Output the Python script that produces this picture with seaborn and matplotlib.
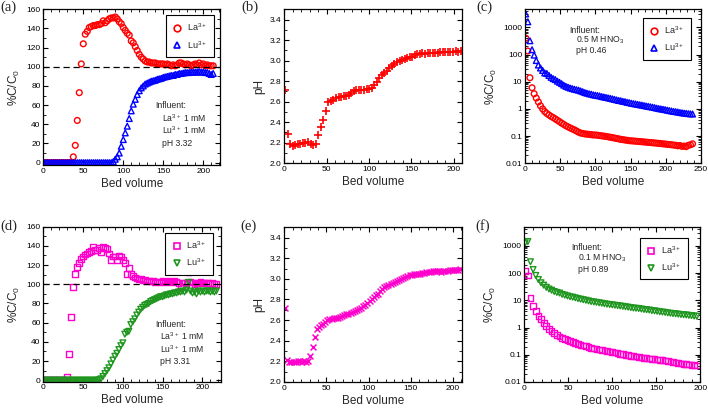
import numpy as np
import pandas as pd
import matplotlib
matplotlib.use("Agg")
import matplotlib.pyplot as plt
import seaborn as sns
from matplotlib.ticker import MultipleLocator, FixedLocator, FixedFormatter, LogLocator, NullFormatter
from matplotlib.lines import Line2D

# ---------------- data ----------------
# (a) pH 3.32 feed, breakthrough
bv_a = [0, 2.5, 5, 7.5, 10, 12.5, 15, 17.5, 20, 22.5, 25, 27.5, 30, 32.5, 35, 37.5, 40, 42.5, 45, 47.5,
        50, 52.5, 55, 57.5, 60, 62.5, 65, 67.5, 70, 72.5, 75, 77.5, 80, 82.5, 85, 87.5, 90, 92.5, 95, 97.5,
        100, 102.5, 105, 107.5, 110, 112.5, 115, 117.5, 120, 122.5, 125, 127.5, 130, 132.5, 135, 137.5, 140, 142.5, 145, 147.5,
        150, 152.5, 155, 157.5, 160, 162.5, 165, 167.5, 170, 172.5, 175, 177.5, 180, 182.5, 185, 187.5, 190, 192.5, 195, 197.5,
        200, 202.5, 205, 207.5, 210, 212.5]
la_a = [0, 0, 0, 0, 0, 0, 0, 0, 0, 0, 0, 0, 0, 0, 0, 6, 18, 44, 73, 103,
        124, 134, 137, 141, 142, 143, 143, 144, 144, 145, 148, 146, 148, 150, 151, 151, 152, 150, 147, 145,
        141, 138, 135, 133, 127, 125, 121, 117, 113, 110, 108, 106, 105, 105, 104, 104, 104, 103, 103, 103,
        103, 102, 103, 102, 101, 102, 101, 102, 104, 104, 103, 102, 103, 102, 101, 102, 103, 102, 104, 102,
        103, 101, 102, 101, 101, 101]
lu_a = [0, 0, 0, 0, 0, 0, 0, 0, 0, 0, 0, 0, 0, 0, 0, 0, 0, 0, 0, 0,
        0, 0, 0, 0, 0, 0, 0, 0, 0, 0, 0, 0, 0, 0, 0, 1, 3.5, 6, 10, 17,
        24, 31, 38, 46, 54, 61, 66, 71, 75, 78, 80, 82, 83, 84, 85, 85.5, 86, 87, 87.5, 88,
        89, 89.5, 90, 90.5, 91, 91, 92, 92, 93, 93, 93.5, 94, 94, 94, 94.5, 94.5, 94.5, 94.5, 95, 94.5,
        94.5, 94, 94, 93, 92, 93]

# (b) effluent pH
bv_b = [1, 4, 7, 10, 13, 16, 19, 22, 25, 28, 31, 34, 37, 40, 43, 46, 49, 52, 55, 58,
        61, 64, 67, 70, 73, 76, 79, 82, 85, 88, 91, 94, 97, 100, 103, 106, 109, 112, 115, 118,
        121, 124, 127, 130, 133, 136, 139, 142, 145, 148, 151, 154, 157, 160, 163, 166, 169, 172, 175, 178,
        181, 184, 187, 190, 193, 196, 199, 202, 205, 208]
ph_b = [2.71, 2.29, 2.19, 2.17, 2.18, 2.19, 2.19, 2.20, 2.20, 2.21, 2.19, 2.18, 2.19, 2.28, 2.35, 2.42, 2.51, 2.60, 2.61, 2.62,
        2.64, 2.65, 2.65, 2.66, 2.66, 2.67, 2.68, 2.70, 2.71, 2.71, 2.71, 2.71, 2.72, 2.72, 2.73, 2.76, 2.79, 2.83, 2.86, 2.88,
        2.90, 2.93, 2.95, 2.97, 2.99, 3.00, 3.01, 3.02, 3.03, 3.04, 3.04, 3.05, 3.06, 3.06, 3.07, 3.06, 3.07, 3.07, 3.07, 3.07,
        3.07, 3.08, 3.08, 3.08, 3.08, 3.08, 3.08, 3.09, 3.08, 3.09]

# (c) elution with 0.5 M HNO3
bv_c = [1, 4, 7, 10, 13, 16, 19, 22, 25, 28, 31, 34, 37, 40, 43, 46, 49, 52, 55, 58,
        61, 64, 67, 70, 73, 76, 79, 82, 85, 88, 91, 94, 97, 100, 103, 106, 109, 112, 115, 118,
        121, 124, 127, 130, 133, 136, 139, 142, 145, 148, 151, 154, 157, 160, 163, 166, 169, 172, 175, 178,
        181, 184, 187, 190, 193, 196, 199, 202, 205, 208, 211, 214, 217, 220, 223, 226, 229, 232, 235, 238]
lu_c = [3100, 1600, 320, 150, 95, 60, 41, 32, 26, 21, 20, 17, 14.5, 13, 12, 10.5, 9.5, 8.5, 7.5, 6.8,
        6.3, 5.9, 5.6, 5.3, 5.1, 4.9, 4.6, 4.3, 4.0, 3.8, 3.6, 3.5, 3.3, 3.2, 3.1, 3.0, 2.85, 2.75, 2.65, 2.55,
        2.45, 2.35, 2.25, 2.15, 2.05, 2.0, 1.9, 1.85, 1.75, 1.7, 1.62, 1.57, 1.52, 1.47, 1.42, 1.38, 1.33, 1.28, 1.24, 1.2,
        1.16, 1.12, 1.07, 1.03, 1.0, 0.97, 0.94, 0.9, 0.87, 0.84, 0.81, 0.79, 0.77, 0.74, 0.72, 0.7, 0.69, 0.67, 0.66, 0.65]
la_c = [400, 135, 14, 6.0, 3.6, 2.5, 1.8, 1.3, 1.0, 0.8, 0.68, 0.6, 0.53, 0.48, 0.43, 0.38, 0.34, 0.3, 0.27, 0.24,
        0.22, 0.2, 0.185, 0.17, 0.155, 0.14, 0.13, 0.125, 0.12, 0.118, 0.116, 0.113, 0.11, 0.11, 0.108, 0.105, 0.102, 0.1, 0.097, 0.094,
        0.091, 0.088, 0.085, 0.082, 0.079, 0.076, 0.074, 0.072, 0.07, 0.068, 0.067, 0.066, 0.065, 0.064, 0.063, 0.062, 0.061, 0.06, 0.059, 0.058,
        0.057, 0.056, 0.055, 0.054, 0.053, 0.052, 0.051, 0.05, 0.049, 0.048, 0.047, 0.046, 0.044, 0.045, 0.042, 0.043, 0.041, 0.046, 0.048, 0.052]

# (d) pH 3.31 feed, breakthrough
bv_d = [0, 2.5, 5, 7.5, 10, 12.5, 15, 17.5, 20, 22.5, 25, 27.5, 30, 32.5, 35, 37.5, 40, 42.5, 45, 47.5,
        50, 52.5, 55, 57.5, 60, 62.5, 65, 67.5, 70, 72.5, 75, 77.5, 80, 82.5, 85, 87.5, 90, 92.5, 95, 97.5,
        100, 102.5, 105, 107.5, 110, 112.5, 115, 117.5, 120, 122.5, 125, 127.5, 130, 132.5, 135, 137.5, 140, 142.5, 145, 147.5,
        150, 152.5, 155, 157.5, 160, 162.5, 165, 167.5, 170, 172.5, 175, 177.5, 180, 182.5, 185, 187.5, 190, 192.5, 195, 197.5,
        200, 202.5, 205, 207.5, 210, 212.5, 215, 217.5]
la_d = [0, 0, 0, 0, 0, 0, 0, 0, 0, 0, 0, 0, 4, 27, 66, 97, 111, 118, 122, 126,
        129, 131, 132, 134, 135, 139, 136, 136, 138, 134, 139, 138, 137, 132, 125, 129, 129, 125, 130, 129,
        125, 122, 111, 117, 111, 109, 107, 106, 105, 106, 104, 105, 103, 104, 103, 104, 102, 103, 103, 102,
        104, 103, 102, 104, 103, 102, 104, 103, 101, 97, 102, 102, 101, 113, 103, 102, 100, 101, 102, 103,
        101, 102, 101, 101, 100, 101, 100, 100]
lu_d = [0, 0, 0, 0, 0, 0, 0, 0, 0, 0, 0, 0, 0, 0, 0, 0, 0, 0, 0, 0,
        0, 0, 0, 0, 0, 0, 0, 0, 0.5, 1.5, 4, 7, 10, 13, 17, 21, 25, 28, 32, 36,
        39, 48, 50, 51, 58, 61, 64, 68, 71, 74, 76, 78, 79, 80, 82, 83, 84, 85, 86, 87,
        87, 88, 89, 89, 90, 90, 91, 91, 92, 92, 93, 92, 94, 102, 93, 91, 92, 90, 93, 92,
        93, 92, 93, 93, 92, 93, 92, 93]

# (e) effluent pH
bv_e = [1, 3.5, 6, 8.5, 11, 13.5, 16, 18.5, 21, 23.5, 26, 28.5, 31, 33.5, 36, 38.5, 41, 43.5, 46, 48.5,
        51, 53.5, 56, 58.5, 61, 63.5, 66, 68.5, 71, 73.5, 76, 78.5, 81, 83.5, 86, 88.5, 91, 93.5, 96, 98.5,
        101, 103.5, 106, 108.5, 111, 113.5, 116, 118.5, 121, 123.5, 126, 128.5, 131, 133.5, 136, 138.5, 141, 143.5, 146, 148.5,
        151, 153.5, 156, 158.5, 161, 163.5, 166, 168.5, 171, 173.5, 176, 178.5, 181, 183.5, 186, 188.5, 191, 193.5, 196, 198.5,
        201, 203.5, 206, 208.5]
ph_e = [2.72, 2.21, 2.19, 2.19, 2.19, 2.19, 2.20, 2.20, 2.19, 2.20, 2.19, 2.20, 2.25, 2.34, 2.44, 2.51, 2.53, 2.55, 2.56, 2.58,
        2.60, 2.61, 2.61, 2.62, 2.62, 2.62, 2.63, 2.64, 2.65, 2.66, 2.66, 2.67, 2.68, 2.69, 2.70, 2.71, 2.72, 2.74, 2.75, 2.77,
        2.79, 2.80, 2.82, 2.84, 2.85, 2.88, 2.90, 2.92, 2.93, 2.94, 2.95, 2.96, 2.97, 2.98, 2.99, 3.00, 3.01, 3.02, 3.03, 3.04,
        3.04, 3.05, 3.05, 3.05, 3.05, 3.06, 3.06, 3.07, 3.07, 3.07, 3.08, 3.08, 3.08, 3.08, 3.07, 3.08, 3.08, 3.08, 3.09, 3.09,
        3.09, 3.09, 3.09, 3.10]

# (f) elution with 0.1 M HNO3
bv_f = [1, 4, 7, 10, 13, 16, 19, 22, 25, 28, 31, 34, 37, 40, 43, 46, 49, 52, 55, 58,
        61, 64, 67, 70, 73, 76, 79, 82, 85, 88, 91, 94, 97, 100, 103, 106, 109, 112, 115, 118,
        121, 124, 127, 130, 133, 136, 139, 142, 145, 148, 151, 154, 157, 160, 163, 166, 169, 172, 175, 178,
        181, 184, 187, 190, 193, 196]
lu_f = [1290, 1440, 260, 135, 82, 58, 44, 36, 30, 26, 23.5, 21, 19.5, 18.5, 16.5, 15.5, 14.5, 13.5, 13, 12.3,
        11.5, 11, 10.5, 10, 9.5, 9, 8.7, 8.4, 8.1, 7.8, 7.5, 7.2, 7.0, 6.8, 6.6, 6.4, 6.2, 6.0, 5.8, 5.6,
        5.4, 5.2, 5.1, 5.0, 4.8, 4.6, 4.5, 4.4, 4.2, 4.1, 3.95, 3.8, 3.7, 3.6, 3.45, 3.35, 3.25, 3.2, 3.1, 3.0,
        2.95, 2.9, 2.8, 2.75, 2.65, 2.6]
la_f = [120, 81, 12.3, 6.0, 4.0, 2.7, 2.0, 1.5, 1.15, 0.91, 0.75, 0.62, 0.53, 0.47, 0.42, 0.37, 0.34, 0.32, 0.3, 0.27,
        0.25, 0.235, 0.22, 0.205, 0.19, 0.18, 0.17, 0.163, 0.157, 0.15, 0.143, 0.138, 0.132, 0.126, 0.12, 0.115, 0.11, 0.105, 0.1, 0.096,
        0.092, 0.089, 0.086, 0.083, 0.08, 0.078, 0.075, 0.073, 0.071, 0.069, 0.067, 0.066, 0.064, 0.061, 0.058, 0.056, 0.054, 0.052, 0.05, 0.048,
        0.046, 0.045, 0.044, 0.042, 0.041, 0.04]

RED = "#FF0000"
BLUE = "#0000FF"
MAG = "#FF00CC"
GRN = "#1E961E"

# ---------------- style ----------------
sns.set_theme(style="ticks")
plt.rcParams["font.family"] = ["Liberation Sans", "DejaVu Sans"]
plt.rcParams["mathtext.default"] = "regular"
plt.rcParams["axes.linewidth"] = 0.9
plt.rcParams["axes.edgecolor"] = "black"

W, H = 708, 409
fig = plt.figure(figsize=(W / 100, H / 100), dpi=100)


def rect(l, t, r, b):
    return [l / W, 1 - b / H, (r - l) / W, (b - t) / H]


def style_axes(ax, xmaj, xmin, ymaj=None, ymin=None, log=False):
    ax.tick_params(which="both", direction="in", top=True, right=True, colors="black",
                   labelsize=6, pad=2)
    ax.tick_params(which="major", length=3.5, width=0.8)
    ax.tick_params(which="minor", length=2, width=0.6)
    ax.xaxis.set_major_locator(MultipleLocator(xmaj))
    ax.xaxis.set_minor_locator(MultipleLocator(xmin))
    if log:
        ax.set_yscale("log")
        vals = [0.01, 0.1, 1, 10, 100, 1000]
        ax.yaxis.set_major_locator(FixedLocator(vals))
        ax.yaxis.set_major_formatter(FixedFormatter(["0.01", "0.1", "1", "10", "100", "1000"]))
        ax.yaxis.set_minor_locator(LogLocator(base=10, subs=np.arange(2, 10), numticks=20))
        ax.yaxis.set_minor_formatter(NullFormatter())
    else:
        ax.yaxis.set_major_locator(MultipleLocator(ymaj))
        ax.yaxis.set_minor_locator(MultipleLocator(ymin))
    for sp in ax.spines.values():
        sp.set_color("black")
        sp.set_linewidth(0.9)
    ax.set_xlabel("Bed volume", fontsize=8.5, labelpad=2)


def hollow(ax, x, y, marker, color, s=17, lw=1.0, label=None):
    sns.scatterplot(x=x, y=y, ax=ax, marker=marker, s=s, label=label, legend=False)
    coll = ax.collections[-1]
    coll.set_facecolor("none")
    coll.set_edgecolor(color)
    coll.set_linewidth(lw)


def line_marker(ax, x, y, marker, color, s=18, lw=1.0):
    sns.scatterplot(x=x, y=y, ax=ax, marker=marker, s=s, color=color, linewidth=lw, legend=False)


def make_legend(ax, marker1, c1, marker2, c2, anchor):
    h = [Line2D([], [], ls="none", marker=marker1, mfc="none", mec=c1, mew=1.2, ms=4.8),
         Line2D([], [], ls="none", marker=marker2, mfc="none", mec=c2, mew=1.2, ms=4.8)]
    leg = ax.legend(h, ["La$^{3+}$", "Lu$^{3+}$"], loc="upper right", bbox_to_anchor=anchor,
                    borderaxespad=0, fontsize=6.5, frameon=True, fancybox=False,
                    edgecolor="black", framealpha=1, handletextpad=0.5, handlelength=1.2,
                    borderpad=0.7, labelspacing=0.6)
    leg.get_frame().set_linewidth(0.8)


def ftext(x, y, s, **kw):
    fig.text(x / W, 1 - y / H, s, **kw)


ylab_kw = dict(fontsize=8.5, labelpad=3)

# (a)
ax = fig.add_axes(rect(43.3, 9.3, 220, 165))
hollow(ax, bv_a, la_a, "o", RED)
hollow(ax, bv_a, lu_a, "^", BLUE)
ax.axhline(100, color="black", lw=0.9, ls=(0, (5, 3)))
ax.set_xlim(0, 221)
ax.set_ylim(-2.5, 160)
style_axes(ax, 50, 10, 20, 10)
ax.set_ylabel("%C/C$_0$", **ylab_kw)
make_legend(ax, "o", RED, "^", BLUE, (0.966, 0.961))

# (b)
ax = fig.add_axes(rect(284.3, 9.3, 462.3, 163.3))
line_marker(ax, bv_b, ph_b, "+", RED, s=28, lw=1.2)
ax.set_xlim(0, 210)
ax.set_ylim(2.0, 3.5)
style_axes(ax, 50, 10, 0.2, 0.1)
ax.set_ylabel("pH", **ylab_kw)

# (c)
ax = fig.add_axes(rect(525, 9.3, 701, 163.3))
hollow(ax, bv_c, la_c, "o", RED)
hollow(ax, bv_c, lu_c, "^", BLUE)
ax.set_xlim(0, 250)
ax.set_ylim(0.01, 4600)
style_axes(ax, 50, 10, log=True)
ax.set_ylabel("%C/C$_0$", **ylab_kw)
make_legend(ax, "o", RED, "^", BLUE, (0.943, 0.942))

# (d)
ax = fig.add_axes(rect(43.3, 226.7, 220.7, 381.7))
hollow(ax, bv_d, la_d, "s", MAG)
hollow(ax, bv_d, lu_d, "v", GRN)
ax.axhline(100, color="black", lw=0.9, ls=(0, (5, 3)))
ax.set_xlim(0, 223)
ax.set_ylim(-1.5, 160)
style_axes(ax, 50, 10, 20, 10)
ax.set_ylabel("%C/C$_0$", **ylab_kw)
make_legend(ax, "s", MAG, "v", GRN, (0.957, 0.959))

# (e)
ax = fig.add_axes(rect(284.3, 227.3, 462.3, 382))
line_marker(ax, bv_e, ph_e, "x", MAG, s=18, lw=1.1)
ax.set_xlim(0, 211)
ax.set_ylim(2.0, 3.5)
style_axes(ax, 50, 10, 0.2, 0.1)
ax.set_ylabel("pH", **ylab_kw)

# (f)
ax = fig.add_axes(rect(524.3, 227.3, 700.3, 382))
hollow(ax, bv_f, la_f, "s", MAG)
hollow(ax, bv_f, lu_f, "v", GRN)
ax.set_xlim(0, 200)
ax.set_ylim(0.01, 4800)
style_axes(ax, 50, 10, log=True)
ax.set_ylabel("%C/C$_0$", **ylab_kw)
make_legend(ax, "s", MAG, "v", GRN, (0.930, 0.931))

# panel letters
pl = dict(fontsize=10.5, family=["Liberation Serif", "DejaVu Serif"], va="center", ha="left")
ftext(0, 7, "(a)", **pl)
ftext(241, 7, "(b)", **pl)
ftext(476, 7, "(c)", **pl)
ftext(0, 226, "(d)", **pl)
ftext(240, 226, "(e)", **pl)
ftext(475, 226, "(f)", **pl)

# annotations
an = dict(fontsize=6.2, va="baseline", ha="left")
ftext(155, 108.5, "Influent:", **an)
ftext(161.5, 121.5, "La$^{3+}$ 1 mM", **an)
ftext(161.5, 134.5, "Lu$^{3+}$ 1 mM", **an)
ftext(161.5, 145.5, "pH 3.32", **an)

ftext(569, 33, "Influent:", **an)
ftext(576.5, 43, "0.5 M HNO$_3$", **an)
ftext(576.5, 53, "pH 0.46", **an)

ftext(155.5, 327, "Influent:", **an)
ftext(160, 340, "La$^{3+}$ 1 mM", **an)
ftext(160, 353, "Lu$^{3+}$ 1 mM", **an)
ftext(160, 364.5, "pH 3.31", **an)

ftext(571, 250, "Influent:", **an)
ftext(578, 260, "0.1 M HNO$_3$", **an)
ftext(578, 271.5, "pH 0.89", **an)

fig.savefig("out.png", dpi=100)
